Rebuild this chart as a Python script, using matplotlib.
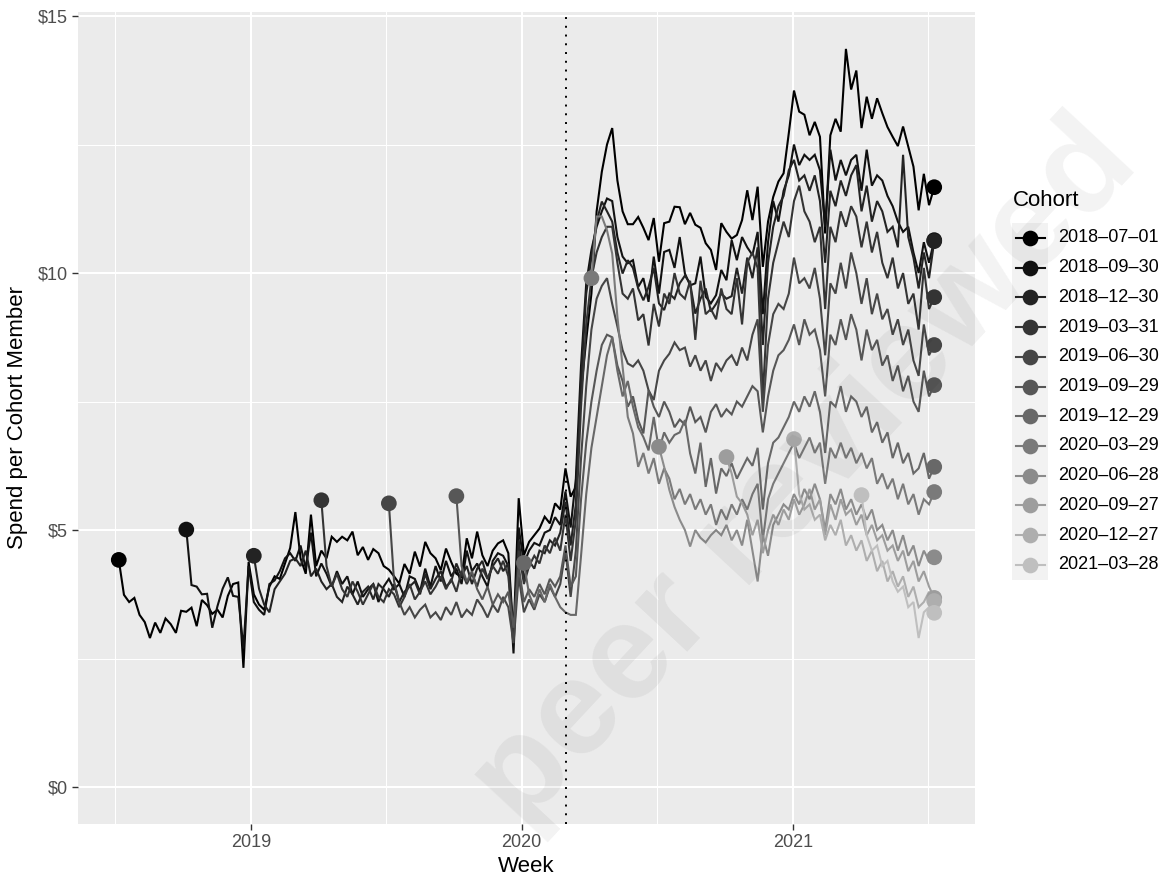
import matplotlib
matplotlib.use("Agg")
import matplotlib.pyplot as plt
import matplotlib.dates as mdates
from matplotlib.ticker import FixedLocator, FuncFormatter
from matplotlib.patches import Rectangle
from matplotlib.lines import Line2D
import numpy as np
import pandas as pd

plt.rcParams["font.family"] = ["Liberation Sans", "DejaVu Sans"]

# ---------------------------------------------------------------- data
cohort_labels = ["2018-07-01", "2018-09-30", "2018-12-30", "2019-03-31",
                 "2019-06-30", "2019-09-29", "2019-12-29", "2020-03-29",
                 "2020-06-28", "2020-09-27", "2020-12-27", "2021-03-28"]

# weekly spend per cohort member, from the cohort's first week to 2021-07-04
spend_2018_07_01 = [
    4.42, 3.74, 3.60, 3.68, 3.35, 3.21, 2.90, 3.20, 3.00, 3.28,
    3.17, 3.00, 3.43, 3.41, 3.49, 3.13, 3.64, 3.54, 3.37, 3.45,
    3.30, 3.72, 3.95, 3.98, 2.32, 4.38, 3.75, 3.55, 3.45, 3.90,
    4.10, 4.05, 4.35, 4.65, 5.35, 4.45, 4.15, 5.30, 4.30, 4.60,
    4.45, 4.87, 4.77, 4.87, 4.80, 4.97, 4.51, 4.67, 4.42, 4.63,
    4.55, 4.30, 4.23, 4.10, 3.96, 4.34, 4.15, 4.58, 4.29, 4.77,
    4.55, 4.45, 4.22, 4.64, 4.38, 4.15, 4.09, 4.84, 4.45, 4.97,
    4.51, 4.30, 4.60, 4.74, 4.80, 4.55, 2.95, 5.62, 4.51, 4.77,
    4.90, 5.03, 5.26, 5.13, 5.52, 5.40, 6.20, 5.65,
    5.84, 7.70, 8.70, 9.60, 11.20, 11.97, 12.50, 12.82, 11.80, 11.20,
    10.95, 10.95, 11.09, 10.88, 10.64, 11.07, 10.22, 10.97, 11.00, 11.29,
    11.28, 10.95, 11.17, 10.94, 10.88, 10.58, 10.45, 10.06, 10.97, 10.80,
    10.67, 10.74, 11.03, 11.61, 11.03, 11.68, 10.12, 11.00, 11.48, 11.78,
    11.94, 12.72, 13.55, 13.14, 13.08, 12.68, 12.94, 12.65, 10.77, 12.68,
    13.00, 12.75, 14.36, 13.57, 13.94, 12.82, 13.43, 13.00, 13.40, 13.11,
    12.84, 12.65, 12.47, 12.85, 12.46, 12.07, 11.22, 11.93, 11.32, 11.67]

spend_2018_09_30 = [
    5.01, 3.93, 3.90, 3.75, 3.76, 3.10, 3.52, 3.86, 4.08, 3.72,
    3.70, 2.70, 4.30, 3.60, 3.45, 3.35, 3.95, 4.02, 4.20, 4.45,
    4.55, 4.40, 4.70, 4.25, 4.95, 4.10, 4.35, 4.15, 3.90, 4.20,
    3.95, 4.10, 3.75, 4.00, 3.70, 3.85, 3.95, 3.60, 3.90, 4.05,
    3.85, 3.95, 3.70, 4.10, 4.05, 3.80, 4.25, 3.90, 4.30, 4.00,
    4.40, 4.10, 4.25, 3.95, 4.60, 4.20, 4.35, 4.10, 3.90, 4.40,
    4.55, 4.50, 4.30, 2.60, 5.05, 4.35, 4.60, 4.75, 4.70, 4.95,
    5.00, 5.25, 5.10, 5.75, 5.05,
    6.00, 8.20, 9.80, 10.45, 10.90, 11.20, 11.45, 11.40, 10.70, 10.32,
    10.19, 10.25, 9.73, 9.90, 9.44, 10.32, 9.60, 10.41, 10.45, 10.10,
    10.70, 9.99, 9.76, 9.80, 10.32, 9.54, 9.41, 9.57, 10.06, 9.86,
    10.64, 10.25, 10.70, 10.50, 10.35, 10.80, 9.20, 10.60, 11.40, 11.00,
    11.60, 11.90, 12.50, 12.10, 12.30, 12.20, 12.30, 12.00, 10.90, 12.40,
    11.80, 12.20, 11.90, 12.20, 12.30, 11.60, 12.40, 11.70, 11.90, 11.80,
    11.50, 11.30, 11.00, 10.80, 10.90, 10.40, 10.00, 10.60, 10.20, 10.64]

spend_2018_12_30 = [
    4.50, 3.86, 3.55, 3.40, 3.85, 4.00, 4.15, 4.40, 4.45, 4.30,
    4.60, 4.10, 4.25, 4.00, 3.85, 3.95, 3.70, 3.60, 3.90, 3.75,
    3.55, 3.80, 3.90, 3.65, 3.95, 3.85, 3.70, 3.95, 3.60, 3.80,
    3.90, 4.00, 3.75, 4.15, 3.85, 4.05, 4.20, 3.90, 4.00, 4.35,
    4.10, 4.30, 3.95, 4.25, 4.40, 4.05, 4.30, 4.45, 4.20, 4.35,
    2.90, 4.80, 4.05, 4.40, 4.25, 4.60, 4.55, 4.80, 4.70, 4.95,
    5.55, 4.70,
    5.50, 7.90, 9.60, 10.30, 11.00, 11.39, 11.20, 11.00, 10.40, 9.99,
    10.25, 10.10, 9.70, 9.47, 9.73, 10.10, 9.41, 9.28, 9.60, 9.50,
    9.80, 9.95, 9.80, 9.21, 9.50, 9.70, 9.25, 9.40, 9.60, 9.50,
    9.55, 10.10, 9.60, 10.30, 9.90, 10.50, 8.60, 10.20, 10.90, 11.30,
    11.50, 12.00, 12.20, 11.80, 11.90, 11.60, 11.90, 11.40, 10.20, 11.60,
    11.30, 11.80, 11.50, 11.90, 12.10, 11.20, 11.70, 11.00, 11.40, 11.20,
    10.80, 10.90, 10.50, 12.30, 10.70, 10.30, 9.70, 10.40, 9.90, 10.62]

spend_2019_03_31 = [
    5.58, 4.30, 3.90, 4.15, 3.85, 3.70, 4.00, 3.80, 3.55, 3.75,
    3.95, 3.70, 3.60, 3.85, 3.75, 3.50, 3.70, 3.95, 3.65, 3.80,
    4.00, 3.75, 3.90, 4.10, 3.85, 4.05, 3.80, 4.20, 3.95, 4.15,
    3.90, 4.25, 4.05, 4.30, 4.15, 4.40, 4.10, 3.00, 4.60, 3.95,
    4.30, 4.50, 4.35, 4.70, 4.55, 4.85, 4.60, 5.30, 4.40,
    5.20, 7.40, 9.00, 9.90, 10.40, 10.70, 10.90, 10.90, 10.20, 9.60,
    9.50, 9.70, 9.08, 9.20, 8.59, 9.40, 8.96, 9.60, 9.40, 10.00,
    9.60, 9.50, 9.85, 8.70, 9.85, 9.20, 9.30, 9.10, 9.70, 9.30,
    9.20, 9.90, 9.00, 10.20, 10.40, 10.10, 7.60, 9.50, 10.20, 10.60,
    11.00, 10.70, 11.40, 11.70, 11.20, 11.00, 10.60, 10.90, 9.30, 10.90,
    10.60, 11.20, 10.90, 11.30, 11.10, 10.50, 11.00, 10.40, 10.80, 10.20,
    9.90, 10.30, 9.70, 10.00, 9.40, 9.60, 8.90, 10.10, 9.30, 9.53]

spend_2019_06_30 = [
    5.52, 4.00, 3.60, 3.35, 3.50, 3.30, 3.45, 3.55, 3.30, 3.40,
    3.25, 3.50, 3.35, 3.60, 3.30, 3.45, 3.35, 3.65, 3.50, 3.30,
    3.55, 3.40, 3.70, 3.50, 2.80, 4.10, 3.40, 3.65, 3.45, 3.75,
    3.60, 3.90, 3.70, 3.95, 4.60, 3.70,
    4.60, 6.40, 7.80, 8.90, 9.50, 9.75, 9.90, 9.40, 8.96, 8.50,
    8.24, 8.18, 8.30, 8.10, 7.72, 7.53, 8.10, 8.30, 8.43, 8.65,
    8.50, 8.55, 8.18, 8.40, 8.10, 8.30, 7.90, 8.25, 8.10, 8.30,
    8.40, 8.20, 8.55, 8.30, 8.80, 9.10, 7.30, 8.60, 9.20, 9.40,
    9.30, 9.60, 10.30, 9.80, 9.90, 9.70, 10.10, 9.50, 8.40, 9.80,
    9.60, 10.20, 9.70, 10.40, 10.00, 9.40, 9.90, 9.20, 9.60, 9.10,
    9.30, 8.80, 9.10, 8.60, 8.90, 8.30, 8.00, 9.00, 8.40, 8.60]

spend_2019_09_29 = [
    5.66, 4.30, 4.00, 4.20, 3.85, 3.65, 3.90, 3.55, 3.75, 3.60,
    3.80, 3.10, 4.30, 3.60, 3.85, 3.70, 3.95, 3.75, 4.05, 3.90,
    4.10, 4.70, 3.90,
    4.10, 5.60, 6.70, 7.50, 8.10, 8.60, 8.80, 8.75, 8.20, 7.90,
    7.40, 7.60, 7.14, 6.88, 7.72, 7.40, 7.20, 7.50, 7.30, 7.00,
    7.15, 7.05, 7.40, 7.10, 7.20, 6.90, 7.30, 7.45, 7.20, 7.35,
    7.25, 7.50, 7.40, 7.60, 7.80, 7.70, 6.90, 7.60, 8.10, 8.40,
    8.50, 8.70, 9.00, 8.60, 9.10, 8.80, 8.90, 8.50, 7.60, 8.80,
    8.60, 9.10, 8.70, 9.20, 8.90, 8.30, 8.90, 8.50, 8.70, 8.20,
    8.40, 7.90, 8.20, 7.70, 8.00, 7.50, 7.30, 8.10, 7.60, 7.82]

spend_2019_12_29 = [
    4.36, 3.75, 3.50, 3.85, 3.60, 3.95, 3.70, 3.50, 3.40, 3.35,
    3.35, 4.50, 5.70, 6.60, 7.20, 7.80, 8.40, 8.75, 8.10, 7.60,
    7.90, 7.40, 7.00, 6.81, 6.55, 7.20, 6.55, 6.90, 6.70, 6.85,
    6.90, 7.14, 6.49, 6.10, 6.70, 5.84, 6.40, 5.71, 6.20, 6.05,
    6.30, 6.00, 6.20, 6.40, 6.25, 6.60, 5.40, 6.30, 6.70, 6.80,
    7.00, 7.20, 7.50, 7.30, 7.60, 7.40, 7.70, 7.30, 6.50, 7.50,
    7.40, 7.80, 7.30, 7.60, 7.50, 7.20, 7.40, 6.90, 7.10, 6.70,
    6.90, 6.40, 6.70, 6.30, 6.50, 6.10, 6.20, 6.50, 6.00, 6.23]

spend_2020_03_29 = [
    9.90, 11.10, 11.10, 10.83, 10.38, 9.15, 8.18, 7.20, 6.88, 6.23,
    6.50, 6.10, 6.40, 5.90, 6.20, 6.00, 5.60, 5.80, 5.50, 5.70,
    5.40, 5.60, 5.30, 5.50, 5.10, 5.40, 5.20, 5.50, 5.30, 5.60,
    5.40, 5.70, 5.90, 4.80, 5.60, 5.90, 6.10, 6.30, 6.50, 6.70,
    6.40, 6.60, 6.80, 6.50, 6.70, 5.90, 6.60, 6.40, 6.70, 6.40,
    6.60, 6.30, 6.50, 6.20, 6.40, 5.90, 6.10, 5.80, 6.00, 5.60,
    5.90, 5.50, 5.70, 5.30, 5.60, 5.50, 5.74]

spend_2020_06_28 = [
    6.62, 6.23, 5.78, 5.45, 5.20, 5.00, 4.68, 5.00, 4.85, 4.76,
    4.90, 5.00, 4.90, 5.10, 4.80, 5.00, 4.70, 5.20, 4.60, 4.00,
    4.90, 4.50, 5.10, 5.30, 5.50, 5.40, 5.70, 5.50, 5.80, 5.60,
    5.90, 5.60, 5.00, 5.70, 5.50, 5.80, 5.40, 5.60, 5.30, 5.50,
    5.20, 5.40, 5.00, 5.10, 4.80, 5.00, 4.60, 4.90, 4.50, 4.70,
    4.30, 4.60, 4.40, 4.47]

spend_2020_09_27 = [
    6.42, 6.10, 5.65, 5.52, 5.30, 4.90, 5.20, 4.55, 5.00, 5.30,
    5.10, 5.40, 5.20, 5.60, 5.30, 5.50, 5.80, 5.40, 5.60, 4.90,
    5.50, 5.20, 5.60, 5.30, 5.40, 5.10, 5.30, 4.90, 5.10, 4.80,
    4.90, 4.60, 4.70, 4.40, 4.60, 4.20, 4.40, 4.00, 4.20, 3.90, 3.68]

spend_2020_12_27 = [
    6.77, 5.70, 5.40, 5.50, 5.20, 5.30, 4.80, 5.10, 4.90, 5.20,
    4.70, 4.90, 4.60, 4.80, 4.40, 4.60, 4.20, 4.40, 4.00, 4.20,
    3.90, 4.10, 3.70, 3.90, 3.50, 3.60, 3.80, 3.62]

spend_2021_03_28 = [
    5.68, 4.90, 4.60, 4.70, 4.30, 4.40, 4.00, 3.80, 3.90, 3.50,
    3.60, 2.90, 3.40, 3.50, 3.39]

spend_by_cohort = [spend_2018_07_01, spend_2018_09_30, spend_2018_12_30,
                   spend_2019_03_31, spend_2019_06_30, spend_2019_09_29,
                   spend_2019_12_29, spend_2020_03_29, spend_2020_06_28,
                   spend_2020_09_27, spend_2020_12_27, spend_2021_03_28]

policy_date = "2020-03-01"
year_ticks = ["2019-01-01", "2020-01-01", "2021-01-01"]
half_year_ticks = ["2018-07-02", "2019-07-02", "2020-07-02", "2021-07-02"]
dollar_ticks = [0, 5, 10, 15]
dollar_minor = [2.5, 7.5, 12.5]

# ---------------------------------------------------------------- figure
W, H = 1167, 877
fig = plt.figure(figsize=(W / 100, H / 100), dpi=100)
fig.patch.set_facecolor("white")

ax = fig.add_axes([78 / W, 1 - 824 / H, 897 / W, 812 / H])
ax.set_facecolor("#EBEBEB")

greys = [str(round(g, 3)) for g in np.linspace(0.0, 0.75, len(cohort_labels))]

week_end = pd.Timedelta(days=6)   # observations are stamped at week end
cohort_dates = []
for label, vals in zip(cohort_labels, spend_by_cohort):
    start = pd.Timestamp(label) + week_end
    cohort_dates.append(pd.date_range(start, periods=len(vals), freq="7D"))

for dates, vals, col in zip(cohort_dates, spend_by_cohort, greys):
    ax.plot(dates, vals, color=col, lw=1.5, zorder=3,
            solid_joinstyle="miter")

for dates, vals, col in zip(cohort_dates, spend_by_cohort, greys):
    ax.scatter([dates[0], dates[-1]], [vals[0], vals[-1]], s=128,
               color=col, edgecolors="none", zorder=4)

ax.axvline(pd.Timestamp(policy_date), color="black", lw=1.4,
           linestyle=(0, (1, 3.5)), zorder=3)

# scales with ggplot-like 5% padding (y range anchored at zero)
all_dates = pd.DatetimeIndex(np.concatenate([d.values for d in cohort_dates]))
x0, x1 = mdates.date2num(all_dates.min()), mdates.date2num(all_dates.max())
ax.set_xlim(x0 - 0.05 * (x1 - x0), x1 + 0.05 * (x1 - x0))
ymax = max(max(v) for v in spend_by_cohort)
ax.set_ylim(-0.05 * ymax, 1.05 * ymax)

ax.xaxis.set_major_locator(FixedLocator(mdates.date2num(pd.to_datetime(year_ticks))))
ax.xaxis.set_major_formatter(mdates.DateFormatter("%Y"))
ax.xaxis.set_minor_locator(FixedLocator(mdates.date2num(pd.to_datetime(half_year_ticks))))
ax.yaxis.set_major_locator(FixedLocator(dollar_ticks))
ax.yaxis.set_major_formatter(FuncFormatter(lambda v, p: f"${v:.0f}"))
ax.yaxis.set_minor_locator(FixedLocator(dollar_minor))

ax.grid(which="major", color="white", lw=1.5)
ax.grid(which="minor", color="white", lw=0.75)
ax.set_axisbelow(True)
for s in ax.spines.values():
    s.set_visible(False)
ax.tick_params(which="major", length=4, width=1.0, color="#333333",
               labelsize=13, labelcolor="#4D4D4D", pad=3)
ax.tick_params(which="minor", length=0)

ax.set_xlabel("Week", fontsize=16, va="center")
ax.xaxis.set_label_coords(0.5, -(866 - 824) / 812)
ax.set_ylabel("Spend per Cohort Member", fontsize=16, va="center")
ax.yaxis.set_label_coords(-(78 - 18) / 897, 0.5)

# ---------------------------------------------------------------- legend
lax = fig.add_axes([0, 0, 1, 1], zorder=5)
lax.set_xlim(0, W)
lax.set_ylim(H, 0)
lax.axis("off")
key_h = 29.7
key_top = 238 - key_h / 2
lax.text(1013, 200, "Cohort", fontsize=16, ha="left", va="center")
lax.add_patch(Rectangle((1012, key_top), 36, key_h * len(cohort_labels),
                        facecolor="#F2F2F2", edgecolor="none"))
for i, (label, col) in enumerate(zip(cohort_labels, greys)):
    yc = key_top + key_h * (i + 0.5)
    lax.add_line(Line2D([1015.5, 1044.5], [yc, yc], color=col, lw=1.5))
    lax.plot([1030], [yc], "o", color=col, markersize=11.3, markeredgewidth=0)
    lax.text(1058, yc, label.replace("-", "\u2013"), fontsize=13,
             ha="left", va="center", color="black")

# faint diagonal watermark
fig.text(0.69, 0.46, "peer reviewed", fontsize=98, fontweight="bold",
         rotation=47, ha="center", va="center", color="black", alpha=0.05,
         zorder=20)

fig.savefig("out.png", dpi=100)
